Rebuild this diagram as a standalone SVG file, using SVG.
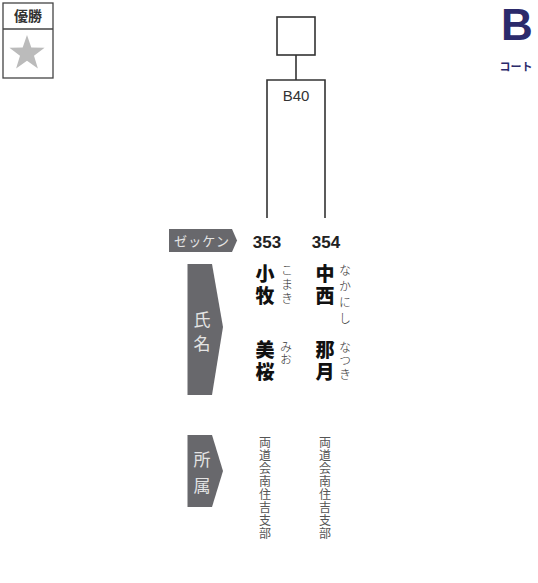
<svg xmlns="http://www.w3.org/2000/svg" width="538" height="583" viewBox="0 0 538 583">
<style>
.ln{fill:none;stroke:#333;stroke-width:1.6}
.tab{fill:#68686c}
.tabt{font-family:"Noto Sans CJK JP",sans-serif;fill:#e4e4e4}
.vt{writing-mode:vertical-rl;font-family:"Noto Sans CJK JP",sans-serif}
.nm{font-size:19px;font-weight:900;fill:#111;letter-spacing:3px}
.fu{font-size:12px;font-weight:300;fill:#333}
.af{font-size:12px;fill:#555;letter-spacing:1px}
.num{font-family:"Liberation Sans",sans-serif;font-weight:bold;font-size:17px;fill:#222}
</style>
<rect width="538" height="583" fill="#fff"/>
<g id="winner">
<rect x="3" y="3" width="50" height="75" fill="#fff" stroke="#444" stroke-width="1.3"/>
<line x1="3" y1="29" x2="53" y2="29" stroke="#444" stroke-width="1.3"/>
<text x="28" y="21" text-anchor="middle" font-family="Noto Sans CJK JP,sans-serif" font-size="14" font-weight="bold" fill="#333">優勝</text>
<polygon points="27,35 31.3,47.6 44.6,47.8 34,55.8 37.9,68.5 27,60.8 16.1,68.5 20,55.8 9.4,47.8 22.7,47.6" fill="#bbb"/>
</g>
<g id="court">
<text x="517" y="40" text-anchor="middle" font-family="Liberation Sans,sans-serif" font-size="44" font-weight="bold" fill="#2b2a6b">B</text>
<text x="516" y="71" text-anchor="middle" font-family="Noto Sans CJK JP,sans-serif" font-size="11" font-weight="bold" fill="#2b2a6b">コート</text>
</g>
<g id="connectors">
<rect class="ln" x="277" y="17" width="38" height="38"/>
<line class="ln" x1="296" y1="55" x2="296" y2="80"/>
<polyline class="ln" points="267,218 267,80 325,80 325,218"/>
</g>
<g id="match-B40">
<text x="296" y="101" text-anchor="middle" font-family="Liberation Sans,sans-serif" font-size="15" fill="#333">B40</text>
</g>
<g id="label-zekken">
<polygon class="tab" points="169,229 232,229 237,240.5 232,252 169,252"/>
<text class="tabt" x="174" y="246" font-size="13" textLength="55">ゼッケン</text>
</g>
<g id="label-name">
<polygon class="tab" points="187.5,264 212,264 223,327 212,395 187.5,395"/>
<text class="tabt" x="202" y="326" text-anchor="middle" font-size="17">氏</text>
<text class="tabt" x="202" y="350" text-anchor="middle" font-size="17">名</text>
</g>
<g id="label-affil">
<polygon class="tab" points="187.5,435 212,435 223,471 212,507 187.5,507"/>
<text class="tabt" x="202" y="466" text-anchor="middle" font-size="17">所</text>
<text class="tabt" x="202" y="492" text-anchor="middle" font-size="17">属</text>
</g>
<g id="player-353">
<text class="num" x="267" y="248" text-anchor="middle">353</text>
<text class="vt nm" x="265" y="264">小牧</text>
<text class="vt fu" x="287" y="264" style="letter-spacing:2px">こまき</text>
<text class="vt nm" x="265" y="340">美桜</text>
<text class="vt fu" x="286" y="341" style="letter-spacing:0.5px">みお</text>
<text class="vt af" x="265" y="436">両道会南住吉支部</text>
</g>
<g id="player-354">
<text class="num" x="326" y="248" text-anchor="middle">354</text>
<text class="vt nm" x="325" y="264">中西</text>
<text class="vt fu" x="345" y="264" style="letter-spacing:4px">なかにし</text>
<text class="vt nm" x="325" y="340">那月</text>
<text class="vt fu" x="345" y="341" style="letter-spacing:1.7px">なつき</text>
<text class="vt af" x="325" y="436">両道会南住吉支部</text>
</g>
</svg>
